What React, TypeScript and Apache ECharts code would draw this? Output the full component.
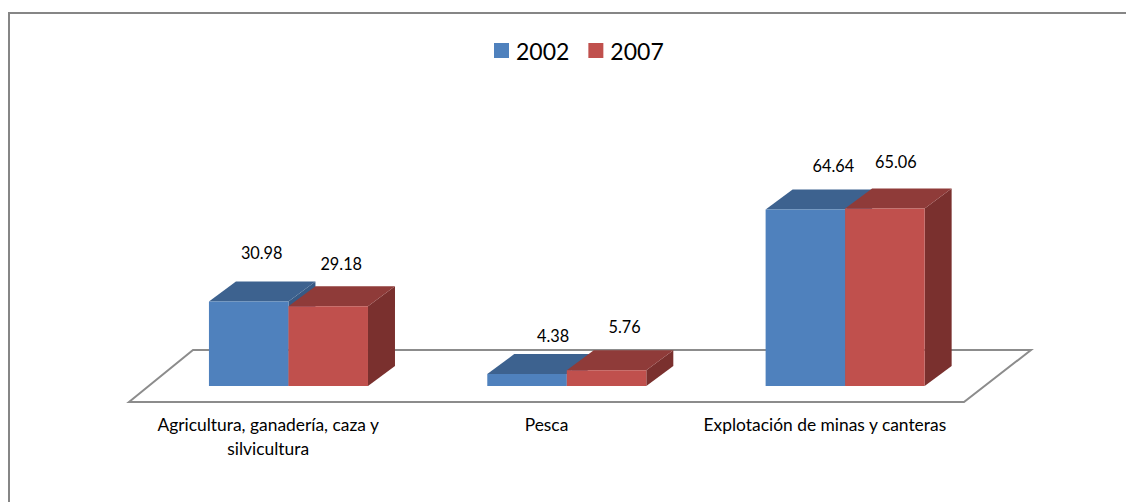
import React, { useEffect, useRef } from "react";
import * as echarts from "echarts";

const categories = ["Agricultura, ganadería, caza y\nsilvicultura", "Pesca", "Explotación de minas y canteras"];
const seriesNames = ["2002", "2007"];
const values2002 = [30.98, 4.38, 64.64];
const values2007 = [29.18, 5.76, 65.06];
const labelTexts2002 = ["30.98", "4.38", "64.64"];
const labelTexts2007 = ["29.18", "5.76", "65.06"];

// Hand-placed label nudges of the original (dx, dy above the bar's top-front edge)
const labelNudge = [
  [[13, -49], [13, -43]],
  [[26, -39], [18, -44]],
  [[28, -44], [11, -47]],
];

const palette = [
  { front: "#4F81BD", top: "#3D628F", side: "#375A85" },
  { front: "#C0504D", top: "#8F3B39", side: "#7A302E" },
];
const FONT = "Lato";
const DEPTH_X = 27;
const DEPTH_Y = 20;
const SHIFT_X = 20.3; // bars stand inside the floor, not on its front edge
const SHIFT_Y = 16;
const BAR_RATIO = 0.2857;

function renderBar(seriesIdx: number, texts: string[]) {
  return (_params: any, api: any) => {
    const i = api.value(0);
    const v = api.value(1);
    const band = api.size([1, 0])[0];
    const bw = band * BAR_RATIO;
    const [cx, yTop0] = api.coord([i, v]);
    const [, yBase0] = api.coord([i, 0]);
    const x0 = cx + SHIFT_X + (seriesIdx === 0 ? -bw : 0);
    const x1 = x0 + bw;
    const yTop = yTop0 - SHIFT_Y;
    const yBase = yBase0 - SHIFT_Y;
    const c = palette[seriesIdx];
    const nudge = labelNudge[i][seriesIdx];
    return {
      type: "group",
      children: [
        {
          type: "polygon",
          shape: { points: [[x1, yTop], [x1 + DEPTH_X, yTop - DEPTH_Y], [x1 + DEPTH_X, yBase - DEPTH_Y], [x1, yBase]] },
          style: { fill: c.side },
        },
        {
          type: "polygon",
          shape: { points: [[x0, yTop], [x0 + DEPTH_X, yTop - DEPTH_Y], [x1 + DEPTH_X, yTop - DEPTH_Y], [x1, yTop]] },
          style: { fill: c.top },
        },
        {
          type: "rect",
          shape: { x: x0, y: yTop, width: bw, height: yBase - yTop },
          style: { fill: c.front },
        },
        {
          type: "text",
          style: {
            text: texts[i],
            x: x0 + bw / 2 + nudge[0],
            y: yTop + nudge[1],
            align: "center",
            verticalAlign: "middle",
            fontFamily: FONT,
            fontSize: 16.3,
            fill: "#000000",
          },
        },
      ],
    };
  };
}

export default function App() {
  const ref = useRef<HTMLDivElement>(null);
  useEffect(() => {
    document.body.style.margin = "0";
    const chart = echarts.init(ref.current!, null, { renderer: "svg" });
    chart.setOption({
      animation: false,
      backgroundColor: "#ffffff",
      graphic: [
        {
          type: "polyline",
          silent: true,
          shape: { points: [[9, 502], [9, 13], [1126, 13]] },
          style: { stroke: "#868686", lineWidth: 2, fill: "none" },
        },
      ],
      legend: {
        data: seriesNames,
        left: 489,
        top: 34,
        icon: "rect",
        itemWidth: 15,
        itemHeight: 15,
        itemGap: 19,
        textStyle: { fontFamily: FONT, fontSize: 23, color: "#000000", padding: [0, 0, 0, 2] },
      },
      grid: { left: 129, top: 129, width: 835, height: 273 },
      xAxis: {
        type: "category",
        data: categories,
        axisLine: { show: false },
        axisTick: { show: false },
        axisLabel: { fontFamily: FONT, fontSize: 17.4, color: "#000000", margin: 10, lineHeight: 24, interval: 0 },
      },
      yAxis: { type: "value", min: 0, max: 100, show: false, splitLine: { show: false } },
      series: [
        {
          type: "custom",
          name: "floor",
          silent: true,
          z: 1,
          data: [[0, 0]],
          encode: { x: 0, y: 1 },
          renderItem: (params: any) => {
            const g = params.coordSys;
            const xL = g.x;
            const xR = g.x + g.width;
            const yF = g.y + g.height;
            return {
              type: "polygon",
              shape: { points: [[xL, yF], [xL + 64, yF - 52], [xR + 67, yF - 52], [xR, yF]] },
              style: { fill: "#ffffff", stroke: "#8C8C8C", lineWidth: 2 },
            };
          },
        },
        {
          type: "custom",
          name: seriesNames[0],
          z: 2,
          itemStyle: { color: palette[0].front },
          data: values2002.map((v, i) => [i, v]),
          encode: { x: 0, y: 1 },
          renderItem: renderBar(0, labelTexts2002),
        },
        {
          type: "custom",
          name: seriesNames[1],
          z: 3,
          itemStyle: { color: palette[1].front },
          data: values2007.map((v, i) => [i, v]),
          encode: { x: 0, y: 1 },
          renderItem: renderBar(1, labelTexts2007),
        },
      ],
    });
    return () => chart.dispose();
  }, []);
  return <div ref={ref} style={{ width: 1126, height: 502, overflow: "hidden" }} />;
}
